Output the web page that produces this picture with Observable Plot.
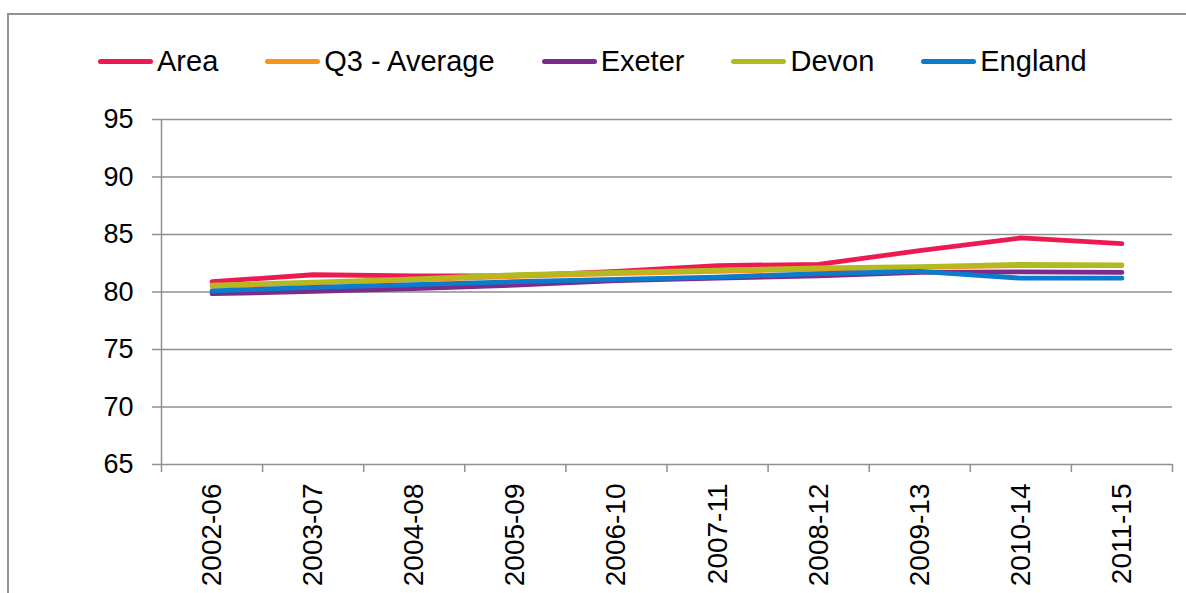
<!DOCTYPE html>
<html>
<head>
<meta charset="utf-8">
<script src="https://cdn.jsdelivr.net/npm/d3@7"></script>
<script src="https://cdn.jsdelivr.net/npm/@observablehq/plot@0.6"></script>
<style>
  html, body { margin: 0; padding: 0; overflow: hidden; background: #fff; width: 1186px; height: 593px; }
  body { font-family: "Liberation Sans", Arial, sans-serif; position: relative; }
  #frame { position: absolute; left: 7px; top: 13px; width: 1200px; height: 620px; border: 2px solid #929292; box-sizing: border-box; }
  #chart { position: absolute; left: 0; top: 0; }
  #legend { position: absolute; left: 98px; top: 45px; display: flex; align-items: center; gap: 47px; font-size: 29px; line-height: 33px; color: #000; }
  .item { display: flex; align-items: center; }
  .sw { width: 55px; height: 5px; border-radius: 3px; margin-right: 4px; }
</style>
</head>
<body>
<div id="frame"></div>
<div id="chart"></div>
<div id="legend"></div>
<script>
const categories = ["2002-06","2003-07","2004-08","2005-09","2006-10","2007-11","2008-12","2009-13","2010-14","2011-15"];
const seriesNames = ["Area", "Q3 - Average", "Exeter", "Devon", "England"];
const seriesColors = ["#ED1A52", "#F7941D", "#7D2B8B", "#B3BA1F", "#0B7BCB"];
const area    = [80.9, 81.5, 81.4, 81.4, 81.8, 82.3, 82.4, 83.6, 84.7, 84.2];
const q3Avg   = [80.5, 80.8, 81.05, 81.35, 81.6, 81.8, 82.0, 82.15, 82.3, 82.3];
const exeter  = [79.85, 80.05, 80.3, 80.6, 81.0, 81.2, 81.4, 81.7, 81.75, 81.7];
const devon   = [80.6, 80.85, 81.15, 81.5, 81.7, 81.9, 82.1, 82.2, 82.4, 82.35];
const england = [80.1, 80.4, 80.65, 80.9, 81.1, 81.3, 81.6, 81.8, 81.2, 81.2];
const yTicks = [65, 70, 75, 80, 85, 90, 95];

const seriesValues = [area, q3Avg, exeter, devon, england];
const idx = categories.map((_, i) => i);
const bounds = categories.map((_, i) => i - 0.5).concat([categories.length - 0.5]);
const grid = "#8f8f8f";

const lineMarks = seriesNames.map((name, s) =>
  Plot.line(idx.map(i => ({i, v: seriesValues[s][i]})), {
    x: "i", y: "v", stroke: seriesColors[s], strokeWidth: 4.8,
    strokeLinecap: "round", strokeLinejoin: "round"
  })
);

const chart = Plot.plot({
  width: 1186,
  height: 593,
  marginLeft: 161,
  marginRight: 14,
  marginTop: 119,
  marginBottom: 129,
  style: { fontFamily: "'Liberation Sans', Arial, sans-serif", color: "#000", background: "transparent" },
  x: { type: "linear", domain: [-0.5, categories.length - 0.5] },
  y: { type: "linear", domain: [65, 95] },
  marks: [
    Plot.ruleY(yTicks, { stroke: grid, strokeWidth: 1.5 }),
    Plot.ruleX([-0.5], { y1: 65, y2: 95, stroke: grid, strokeWidth: 1.5 }),
    Plot.axisY({ ticks: yTicks, tickSize: 9, tickPadding: 19, fontSize: 27, stroke: grid, strokeWidth: 1.5, label: null }),
    Plot.axisX({ ticks: bounds, tickSize: 8, tickFormat: () => "", stroke: grid, strokeWidth: 1.5, label: null }),
    Plot.axisX({ ticks: idx, tickSize: 0, tickPadding: 19, tickRotate: -90, fontSize: 28, tickFormat: i => categories[i], label: null }),
    ...lineMarks
  ]
});
document.getElementById("chart").appendChild(chart);

const legend = document.getElementById("legend");
seriesNames.forEach((name, s) => {
  const item = document.createElement("div");
  item.className = "item";
  const sw = document.createElement("span");
  sw.className = "sw";
  sw.style.background = seriesColors[s];
  const t = document.createElement("span");
  t.textContent = name;
  item.appendChild(sw);
  item.appendChild(t);
  legend.appendChild(item);
});
</script>
</body>
</html>
